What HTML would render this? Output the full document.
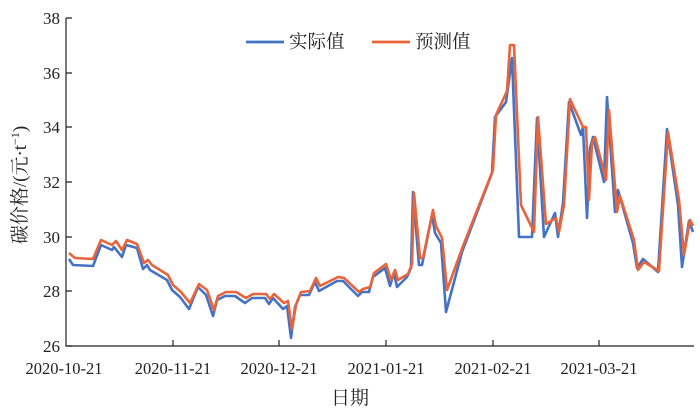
<!DOCTYPE html><html><head><meta charset="utf-8"><style>body{margin:0;background:#fff}svg{display:block}text{font-family:"Liberation Serif","Noto Serif CJK SC",serif;fill:#222}</style></head><body>
<svg width="700" height="412" viewBox="0 0 700 412">
<g stroke="#222" stroke-width="1.2" fill="none">
<path d="M66,18V346H694"/>
<path d="M66,346h6M66,291h6M66,237h6M66,182h6M66,127h6M66,73h6M66,18h6"/>
<path d="M173,346v-6M279,346v-6M386,346v-6M493,346v-6M599,346v-6"/>
</g>
<g font-size="17" text-anchor="end">
<text x="60" y="352">26</text><text x="60" y="297">28</text><text x="60" y="243">30</text><text x="60" y="188">32</text><text x="60" y="133">34</text><text x="60" y="79">36</text><text x="60" y="24">38</text>
</g>
<g font-size="16.5" text-anchor="middle">
<text x="64" y="374">2020-10-21</text><text x="173" y="374">2020-11-21</text><text x="279" y="374">2020-12-21</text><text x="386" y="374">2021-01-21</text><text x="493" y="374">2021-02-21</text><text x="599" y="374">2021-03-21</text>
</g>
<text x="350" y="404" font-size="19" text-anchor="middle">日期</text>
<text transform="translate(26,185) rotate(-90)" font-size="19" text-anchor="middle">碳价格/(元·t<tspan font-size="12" dy="-7">−1</tspan><tspan dy="7">)</tspan></text>
<polyline fill="none" stroke="#4472c4" stroke-width="2.6" stroke-linejoin="round" points="69,259 73,265 93,266 101,245 112,250 114,247 122,257 126,245 137,248 143,269 147,265 150,270 167,280 172,290 180,297 189,309 198,287 206,295 213,316 217,300 225,296 235,296 245,303 252,298 265,298 269,304 273,298 283,309 287,306 291,338 295,307 300,295 309,295 315,282 319,291 337,281 343,281 358,296 362,292 369,292 373,277 385,268 390,286 394,273 397,287 407,277 411,268 413,192 419,265 422,265 432,215 435,233 441,243 446,312 462,252 492,173 495,117 506,102 512,58 519,237 532,237 537,118 544,237 555,213 558,237 563,203 569,102 581,135 583,127 587,218 590,148 593,137 604,182 607,97 615,212 618,190 633,243 637,268 643,259 658,272 667,129 678,205 682,267 689,221 693,232"/>
<polyline fill="none" stroke="#e8643a" stroke-width="2.6" stroke-linejoin="round" points="69,253 75,258 93,259 101,240 112,245 116,241 122,250 127,240 137,244 144,263 148,260 152,265 168,275 173,285 181,292 190,303 199,284 207,290 214,310 218,296 226,292 236,292 246,298 253,294 266,294 270,299 274,294 284,303 288,301 292,329 296,305 301,292 310,291 316,278 320,286 338,277 344,278 359,292 363,289 370,287 374,273 386,264 391,280 395,270 398,280 408,274 412,264 414,193 420,258 423,258 433,210 436,226 442,238 447,290 463,246 493,170 496,115 507,91 510,45 514,45 521,205 534,232 538,117 546,224 556,218 559,232 564,205 570,99 583,127 586,127 589,200 592,143 595,137 606,180 609,110 617,212 620,196 634,240 638,270 644,262 659,271 668,132 679,200 684,255 690,220 693,226"/>
<line x1="246" y1="42" x2="284" y2="42" stroke="#4472c4" stroke-width="2.8"/>
<text x="289" y="48" font-size="18.5">实际值</text>
<line x1="372" y1="42" x2="410" y2="42" stroke="#e8643a" stroke-width="2.8"/>
<text x="415" y="48" font-size="18.5">预测值</text>
</svg>
</body></html>
